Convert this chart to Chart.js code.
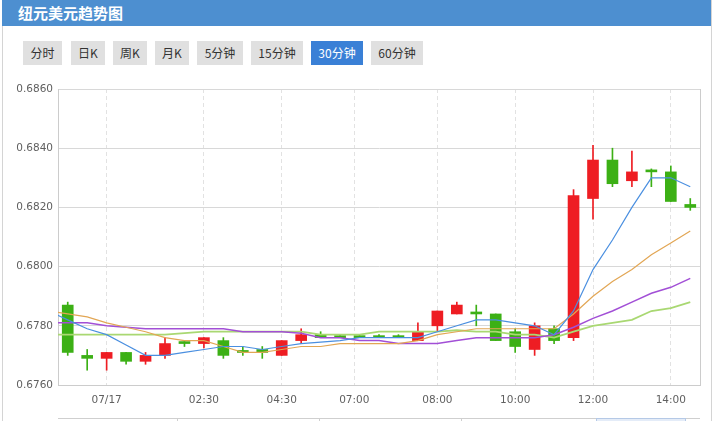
<!DOCTYPE html>
<html>
<head>
<meta charset="utf-8">
<script src="https://cdn.jsdelivr.net/npm/chart.js@4.4.0/dist/chart.umd.min.js"></script>
<style>
  html, body { margin:0; padding:0; background:#fff; }
  body { width:714px; height:421px; position:relative; overflow:hidden; font-family:"Noto Sans CJK SC","DejaVu Sans",sans-serif; }
  .frameL { position:absolute; left:2px; top:0; width:1px; height:421px; background:#d4d4d4; }
  .frameR { position:absolute; left:711px; top:0; width:1px; height:421px; background:#d4d4d4; }
  .header { position:absolute; left:2px; top:0; width:709px; height:26px; background:#4d8fd0; }
  .title { position:absolute; left:16px; top:0; line-height:26px; font-size:15px; font-weight:bold; color:#fff; }
  .btn { position:absolute; top:41px; height:24px; line-height:24px; background:#e0e0e0; color:#333; font-size:12px; text-align:center; }
  .btn.on { background:#3a80d6; color:#fff; }
  #wrap { position:absolute; left:0; top:75px; width:714px; height:340px; }
  .nav { position:absolute; left:58px; top:418px; width:642px; height:1px; background:#cfcfcf; }
  .navmark { position:absolute; top:418px; width:1px; height:3px; background:#cfcfcf; }
  .navbox { position:absolute; left:596px; top:418px; width:90px; height:4px; background:#e4ecf8; border:1px solid #b5c9e6; box-sizing:border-box; }
</style>
</head>
<body>
<div class="frameL"></div>
<div class="frameR"></div>
<div class="header"><span class="title">纽元美元趋势图</span></div>
<div class="btn" style="left:23px;width:39px;">分时</div>
<div class="btn" style="left:71px;width:34px;">日K</div>
<div class="btn" style="left:113px;width:34px;">周K</div>
<div class="btn" style="left:155px;width:34px;">月K</div>
<div class="btn" style="left:197px;width:46px;">5分钟</div>
<div class="btn" style="left:251px;width:52px;">15分钟</div>
<div class="btn on" style="left:311px;width:52px;">30分钟</div>
<div class="btn" style="left:371px;width:52px;">60分钟</div>
<div id="wrap"><canvas id="c" width="714" height="340"></canvas></div>
<div class="nav"></div>
<div class="navmark" style="left:177px;"></div>
<div class="navmark" style="left:319px;"></div>
<div class="navmark" style="left:461px;"></div>
<div class="navbox"></div>
<script>
// ---- data ----
const xTickLabels = ['07/17', '02:30', '04:30', '07:00', '08:00', '10:00', '12:00', '14:00'];
const xTickIndex  = [2, 7, 11, 14.73, 19, 23, 27, 31];
const yTickValues = [0.6760, 0.6780, 0.6800, 0.6820, 0.6840, 0.6860];

const opens  = [0.6787,0.6770,0.6769,0.6771,0.6768,0.6770,0.6774,0.6774,0.6775,0.6771,0.6772,0.6770,0.6775,0.6777,0.6776,0.6776,0.6776,0.6776,0.6775,0.6780,0.6784,0.6784,0.6784,0.6778,0.6772,0.6779,0.6776,0.6823,0.6836,0.6829,0.6832,0.6832,0.6821];
const highs  = [0.6788,0.6772,0.6771,0.6771,0.6771,0.6776,0.6775,0.6776,0.6776,0.6773,0.6773,0.6775,0.6779,0.6778,0.6777,0.6777,0.6777,0.6777,0.6781,0.6785,0.6788,0.6787,0.6784,0.6779,0.6781,0.6780,0.6826,0.6841,0.6840,0.6839,0.6833,0.6834,0.6823];
const lows   = [0.6770,0.6765,0.6765,0.6767,0.6767,0.6769,0.6773,0.67725,0.6769,0.6770,0.6769,0.6770,0.6774,0.6776,0.6776,0.6776,0.6776,0.6776,0.6775,0.6778,0.6784,0.6780,0.6775,0.6771,0.6770,0.6774,0.6775,0.6816,0.6827,0.6827,0.6827,0.6822,0.6819];
const closes = [0.6771,0.6769,0.6771,0.6768,0.6770,0.6774,0.6774,0.6776,0.6770,0.6771,0.6771,0.6775,0.6777,0.6776,0.6776,0.6776,0.6776,0.6776,0.6778,0.6785,0.6787,0.6784,0.6775,0.6773,0.6780,0.6775,0.6824,0.6836,0.6828,0.6832,0.6832,0.6822,0.6820];

// moving averages, first value belongs to the candle before the visible range
const ma5  = [0.6785,0.6782,0.6779,0.6777,0.67735,0.6770,0.6770,0.6771,0.6772,0.6773,0.6773,0.6772,0.6773,0.6774,0.67745,0.6775,0.6776,0.6776,0.6776,0.6776,0.6778,0.6780,0.6782,0.6782,0.6781,0.6780,0.6777,0.6785,0.6799,0.6809,0.6820,0.6830,0.6830,0.6827];
const ma10 = [0.6785,0.6784,0.6783,0.6781,0.67795,0.6778,0.6776,0.6775,0.6775,0.6773,0.6771,0.6771,0.6772,0.6773,0.6773,0.6774,0.6774,0.6774,0.6774,0.6775,0.6777,0.6778,0.6779,0.6779,0.6779,0.6779,0.6779,0.6784,0.6790,0.6795,0.6799,0.6804,0.6808,0.6812];
const ma20 = [0.6781,0.6781,0.6781,0.6780,0.67795,0.6779,0.6779,0.6779,0.6779,0.6779,0.6778,0.6778,0.6778,0.67775,0.6776,0.6776,0.6775,0.6775,0.6774,0.6774,0.6774,0.6775,0.6776,0.6776,0.6776,0.6776,0.6777,0.67795,0.67825,0.6785,0.6788,0.6791,0.6793,0.6796];
const ma30 = [0.6777,0.6777,0.6777,0.6777,0.6777,0.6777,0.6777,0.67775,0.6778,0.6778,0.6778,0.6778,0.6778,0.6778,0.6777,0.6777,0.6777,0.6778,0.6778,0.6778,0.6778,0.67785,0.6778,0.6778,0.6777,0.6777,0.6776,0.6778,0.6780,0.6781,0.6782,0.6785,0.6786,0.6788];

// ---- build ----
const UP = '#ee1d23', DOWN = '#3cb015';
const candleColors = opens.map((o, i) => closes[i] > o ? UP : DOWN);
const bodies = opens.map((o, i) => ({ x: i, y: [o, closes[i]] }));
const wicks  = opens.map((o, i) => ({ x: i, y: [lows[i], highs[i]] }));
const maPoints = arr => arr.map((v, i) => ({ x: i - 1, y: v }));

const rightBorder = {
  id: 'rightBorder',
  afterDraw(chart) {
    const { ctx, chartArea } = chart;
    ctx.save();
    ctx.strokeStyle = '#cccccc';
    ctx.lineWidth = 1;
    ctx.beginPath();
    const x = Math.round(chartArea.right) + 0.5;
    ctx.moveTo(x, chartArea.top);
    ctx.lineTo(x, chartArea.bottom);
    ctx.stroke();
    ctx.restore();
  }
};

Chart.defaults.font.family = "'DejaVu Sans', sans-serif";

new Chart(document.getElementById('c'), {
  type: 'bar',
  data: {
    datasets: [
      { type: 'line', data: maPoints(ma5),  borderColor: '#4a8fe0', borderWidth: 1.2, pointRadius: 0, tension: 0, order: 0 },
      { type: 'line', data: maPoints(ma10), borderColor: '#e2a654', borderWidth: 1.2, pointRadius: 0, tension: 0, order: 0 },
      { type: 'line', data: maPoints(ma20), borderColor: '#a24fd6', borderWidth: 1.5, pointRadius: 0, tension: 0, order: 0 },
      { type: 'line', data: maPoints(ma30), borderColor: '#a9d872', borderWidth: 1.8, pointRadius: 0, tension: 0, order: 0 },
      { type: 'bar', data: bodies, backgroundColor: candleColors, barThickness: 11, minBarLength: 2, grouped: false, order: 1 },
      { type: 'bar', data: wicks, backgroundColor: candleColors, barThickness: 1, grouped: false, order: 2 }
    ]
  },
  options: {
    responsive: false,
    animation: false,
    devicePixelRatio: 1,
    layout: { padding: { left: 0, right: 14, top: 14, bottom: 0 } },
    plugins: { legend: { display: false }, tooltip: { enabled: false } },
    scales: {
      x: {
        type: 'linear',
        offset: false,
        min: -0.5,
        max: 32.5,
        afterBuildTicks(scale) { scale.ticks = xTickIndex.map(v => ({ value: v })); },
        afterFit(scale) { scale.height = 30; },
        ticks: {
          autoSkip: false,
          maxRotation: 0,
          padding: 9,
          color: '#606060',
          font: { size: 10.5 },
          callback: (v, i) => xTickLabels[i]
        },
        grid: { color: '#e2e2e2', drawTicks: false, offset: false },
        border: { color: '#cccccc', dash: [4, 3] }
      },
      y: {
        type: 'linear',
        min: 0.6760,
        max: 0.6860,
        afterBuildTicks(scale) { scale.ticks = yTickValues.map(v => ({ value: v })); },
        afterFit(scale) { scale.width = 58; },
        ticks: {
          padding: 5,
          color: '#606060',
          font: { size: 10.5 },
          callback: v => Number(v).toFixed(4)
        },
        grid: { color: '#d8d8d8', drawTicks: false },
        border: { color: '#cccccc' }
      }
    }
  },
  plugins: [rightBorder]
});
</script>
</body>
</html>
